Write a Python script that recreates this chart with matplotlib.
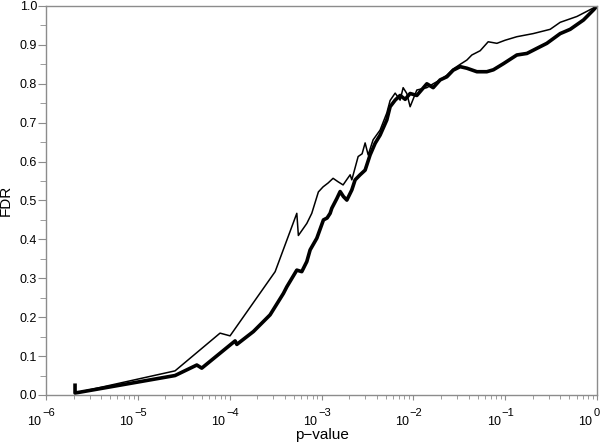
import matplotlib
matplotlib.use("Agg")
import matplotlib.pyplot as plt
import matplotlib.transforms as mtransforms
import numpy as np
from matplotlib.ticker import FixedLocator, LogLocator, MultipleLocator, NullFormatter, FormatStrFormatter

plt.rcParams['font.family'] = ['Liberation Sans', 'DejaVu Sans']

# log10(p-value) and FDR
thin_logp = [-5.684, -4.595, -4.105, -3.996, -3.505, -3.269, -3.252, -3.160, -3.106,
             -3.034, -2.983, -2.928, -2.874, -2.819, -2.765, -2.721, -2.688, -2.670,
             -2.601, -2.558, -2.525, -2.492, -2.438, -2.362, -2.289, -2.253, -2.198,
             -2.144, -2.111, -2.071, -2.035, -1.962, -1.853, -1.784, -1.708, -1.635,
             -1.566, -1.490, -1.417, -1.363, -1.272, -1.185, -1.090, -1.0, -0.873,
             -0.695, -0.510, -0.401, -0.219, -0.038, 0.0]
thin_fdr = [0.005, 0.062, 0.159, 0.152, 0.317, 0.467, 0.41, 0.441, 0.467,
            0.522, 0.535, 0.545, 0.557, 0.548, 0.54, 0.555, 0.566, 0.553,
            0.613, 0.62, 0.648, 0.617, 0.656, 0.681, 0.725, 0.757, 0.776,
            0.758, 0.79, 0.775, 0.741, 0.784, 0.79, 0.80, 0.81, 0.822,
            0.838, 0.85, 0.861, 0.874, 0.885, 0.908, 0.904, 0.912, 0.921,
            0.929, 0.94, 0.958, 0.973, 0.995, 1.0]

thick_logp = [-5.684, -5.684, -4.595, -4.358, -4.304, -3.941, -3.922, -3.742, -3.560,
              -3.415, -3.378, -3.269, -3.215, -3.160, -3.124, -3.051, -2.979, -2.939,
              -2.906, -2.888, -2.833, -2.797, -2.761, -2.724, -2.670, -2.634, -2.580,
              -2.525, -2.471, -2.416, -2.362, -2.289, -2.253, -2.198, -2.144, -2.089,
              -2.035, -1.962, -1.853, -1.784, -1.708, -1.635, -1.566, -1.490, -1.417,
              -1.308, -1.200, -1.128, -1.017, -0.873, -0.763, -0.655, -0.546, -0.401,
              -0.292, -0.147, -0.038, 0.0]
thick_fdr = [0.025, 0.005, 0.050, 0.077, 0.069, 0.139, 0.130, 0.163, 0.206,
             0.261, 0.278, 0.321, 0.317, 0.343, 0.373, 0.403, 0.450, 0.455,
             0.467, 0.48, 0.505, 0.523, 0.51, 0.501, 0.527, 0.553, 0.566,
             0.578, 0.617, 0.647, 0.668, 0.707, 0.741, 0.758, 0.77, 0.76,
             0.775, 0.77, 0.80, 0.79, 0.81, 0.818, 0.835, 0.844, 0.84,
             0.831, 0.831, 0.836, 0.852, 0.874, 0.878, 0.891, 0.904, 0.929,
             0.94, 0.964, 0.99, 1.0]

x_exponents = [-6, -5, -4, -3, -2, -1, 0]

fig = plt.figure(figsize=(6, 4.43), dpi=100)
ax = fig.add_axes([0.0767, 0.1084, 0.9183, 0.8781])

ax.plot(10 ** np.array(thin_logp), thin_fdr, color='k', linewidth=1.1)
ax.plot(10 ** np.array(thick_logp), thick_fdr, color='k', linewidth=2.6)

ax.set_xscale('log')
ax.set_xlim(1e-6, 1)
ax.set_ylim(0, 1.0)

ax.xaxis.set_major_locator(FixedLocator([10.0 ** e for e in x_exponents]))
ax.xaxis.set_minor_locator(LogLocator(base=10, subs=np.arange(2, 10), numticks=20))
ax.xaxis.set_major_formatter(NullFormatter())
ax.xaxis.set_minor_formatter(NullFormatter())
ax.yaxis.set_major_locator(MultipleLocator(0.1))
ax.yaxis.set_minor_locator(MultipleLocator(0.05))
ax.yaxis.set_major_formatter(FormatStrFormatter('%.1f'))

for s in ax.spines.values():
    s.set_color('#8c8c8c')
    s.set_linewidth(1.0)
ax.tick_params(axis='x', which='major', direction='out', length=3.5, color='#8c8c8c')
ax.tick_params(axis='x', which='minor', direction='out', length=3.0, color='#8c8c8c')
ax.tick_params(axis='y', which='major', direction='out', length=5.5, color='#8c8c8c',
               labelsize=9, pad=1)
ax.tick_params(axis='y', which='minor', direction='out', length=4.5, color='#8c8c8c')

# x tick labels: "10" with the exponent raised beside it
trans = mtransforms.blended_transform_factory(ax.transData, ax.transAxes)
for e in x_exponents:
    base_off = mtransforms.offset_copy(trans, fig=fig, x=-4.5, y=-21, units='dots')
    exp_off = mtransforms.offset_copy(trans, fig=fig, x=-3.5, y=-13, units='dots')
    ax.text(10.0 ** e, 0, '10', transform=base_off, ha='right', va='top', fontsize=9)
    ax.text(10.0 ** e, 0, '\u2212%d' % -e if e < 0 else '0', transform=exp_off,
            ha='left', va='top', fontsize=8)

ax.set_xlabel('p\u2212value', fontsize=11)
ax.xaxis.set_label_coords(0.5, -0.085)
ax.set_ylabel('FDR', fontsize=11)
ax.yaxis.set_label_coords(-0.06, 0.5)

fig.savefig('out.png', dpi=100)
